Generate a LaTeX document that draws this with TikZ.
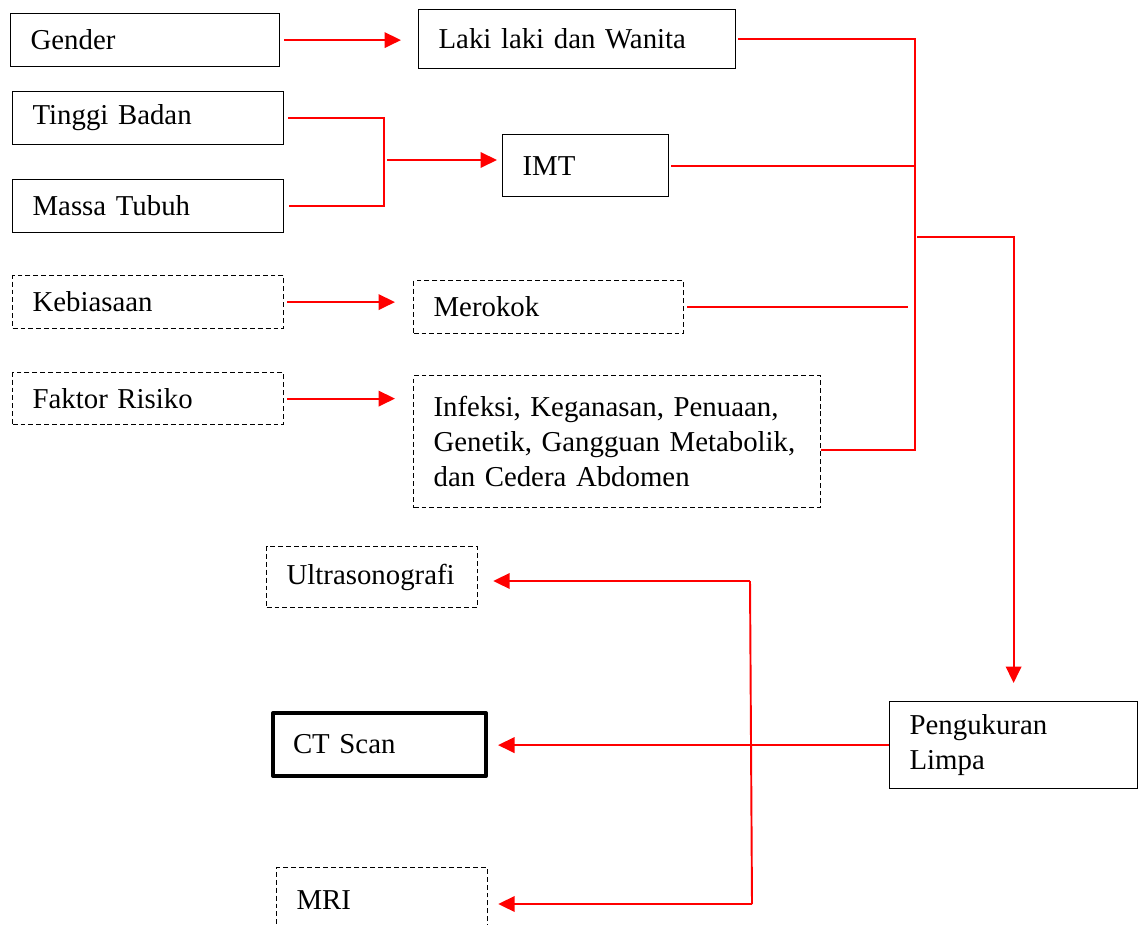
\documentclass[tikz,border=0pt]{standalone}
\usepackage{fontspec}
\setmainfont{Liberation Serif}
\usetikzlibrary{shapes,arrows.meta}

\begin{document}
\begin{tikzpicture}[x=0.02cm, y=-0.02cm]
    % gaya kotak dan garis
    \tikzstyle{box} = [rectangle, anchor=north west, draw=black, line width=0.7pt, inner xsep=0.4cm, inner ysep=0pt, align=left, font=\fontsize{16.4pt}{19.8pt}\selectfont]
    \tikzstyle{dashbox} = [box, dash pattern=on 2.8pt off 1.7pt]
    \tikzstyle{thickbox} = [box, line width=2.3pt, line join=round]
    \tikzstyle{line} = [draw=red, line width=1.1pt]
    \tikzstyle{arrow} = [line, -{Triangle[length=0.33cm, width=0.31cm]}]

    \useasboundingbox (0,0) rectangle (1138,925);

    % kotak kiri
    \node [box, text width=4.58cm, minimum height=1.06cm] (gender) at (10,13) {Gender};
    \node [box, text width=4.62cm, minimum height=1.06cm] (tinggi) at (12,91) {Tinggi Badan};
    \node [box, text width=4.62cm, minimum height=1.06cm] (massa) at (12,179) {Massa Tubuh};
    \node [dashbox, text width=4.62cm, minimum height=1.06cm] (kebiasaan) at (12,275) {Kebiasaan};
    \node [dashbox, text width=4.62cm, minimum height=1.04cm] (faktor) at (12,372) {Faktor Risiko};

    % kotak tengah
    \node [box, text width=5.54cm, minimum height=1.18cm] (laki) at (418,9) {Laki laki dan Wanita};
    \node [box, text width=2.52cm, minimum height=1.24cm] (imt) at (502,134) {IMT};
    \node [dashbox, text width=4.60cm, minimum height=1.06cm] (merokok) at (413,280) {Merokok};
    \node [dashbox, text width=7.34cm, minimum height=2.64cm] (infeksi) at (413,375) {Infeksi, Keganasan, Penuaan,\\Genetik, Gangguan Metabolik,\\dan Cedera Abdomen};

    % kotak pemeriksaan
    \node [dashbox, text width=3.42cm, minimum height=1.22cm] (usg) at (266,546) {Ultrasonografi};
    \node [thickbox, text width=3.46cm, minimum height=1.26cm] (ct) at (271,711) {CT Scan};
    \node [dashbox, text width=3.42cm, minimum height=1.28cm] (mri) at (276,867) {MRI};
    \node [box, text width=4.16cm, minimum height=1.74cm] (limpa) at (889,701) {Pengukuran\\Limpa};

    % titik sambung
    \coordinate (brk) at (384,160);
    \coordinate (colb) at (915,450);
    \coordinate (brn) at (917,237);
    \coordinate (fant) at (750,581);
    \coordinate (fanb) at (752,904);

    % garis penghubung
    \draw [arrow, shorten <=0.08cm, shorten >=0.34cm] (gender.east) -- (gender.east -| laki.west);
    \draw [line, shorten <=0.08cm, shorten >=0.1cm] (tinggi.east) -| (brk) |- (massa.east);
    \draw [arrow, shorten <=0.06cm, shorten >=0.1cm] (brk) -- (brk -| imt.west);
    \draw [line, shorten <=0.04cm] (laki.east) -| (colb) -- (colb -| infeksi.east);
    \draw [line, shorten <=0.04cm] (imt.east) -- (imt.east -| colb);
    \draw [line, shorten <=0.06cm, shorten >=0.14cm] (merokok.east) -- (merokok.east -| colb);
    \draw [arrow, shorten <=0.06cm, shorten >=0.36cm] (kebiasaan.east) -- (kebiasaan.east -| merokok.west);
    \draw [arrow, shorten <=0.06cm, shorten >=0.36cm] (faktor.east) -- (faktor.east -| infeksi.west);
    \draw [arrow, shorten >=0.36cm] (brn) -| (limpa.north);
    \draw [arrow, shorten >=0.2cm] (limpa.west) -- (limpa.west -| ct.east);
    \draw [line] (fant) -- (fanb);
    \draw [arrow, shorten >=0.3cm] (fant) -- (fant -| usg.east);
    \draw [arrow, shorten >=0.2cm] (fanb) -- (fanb -| mri.east);
\end{tikzpicture}
\end{document}
